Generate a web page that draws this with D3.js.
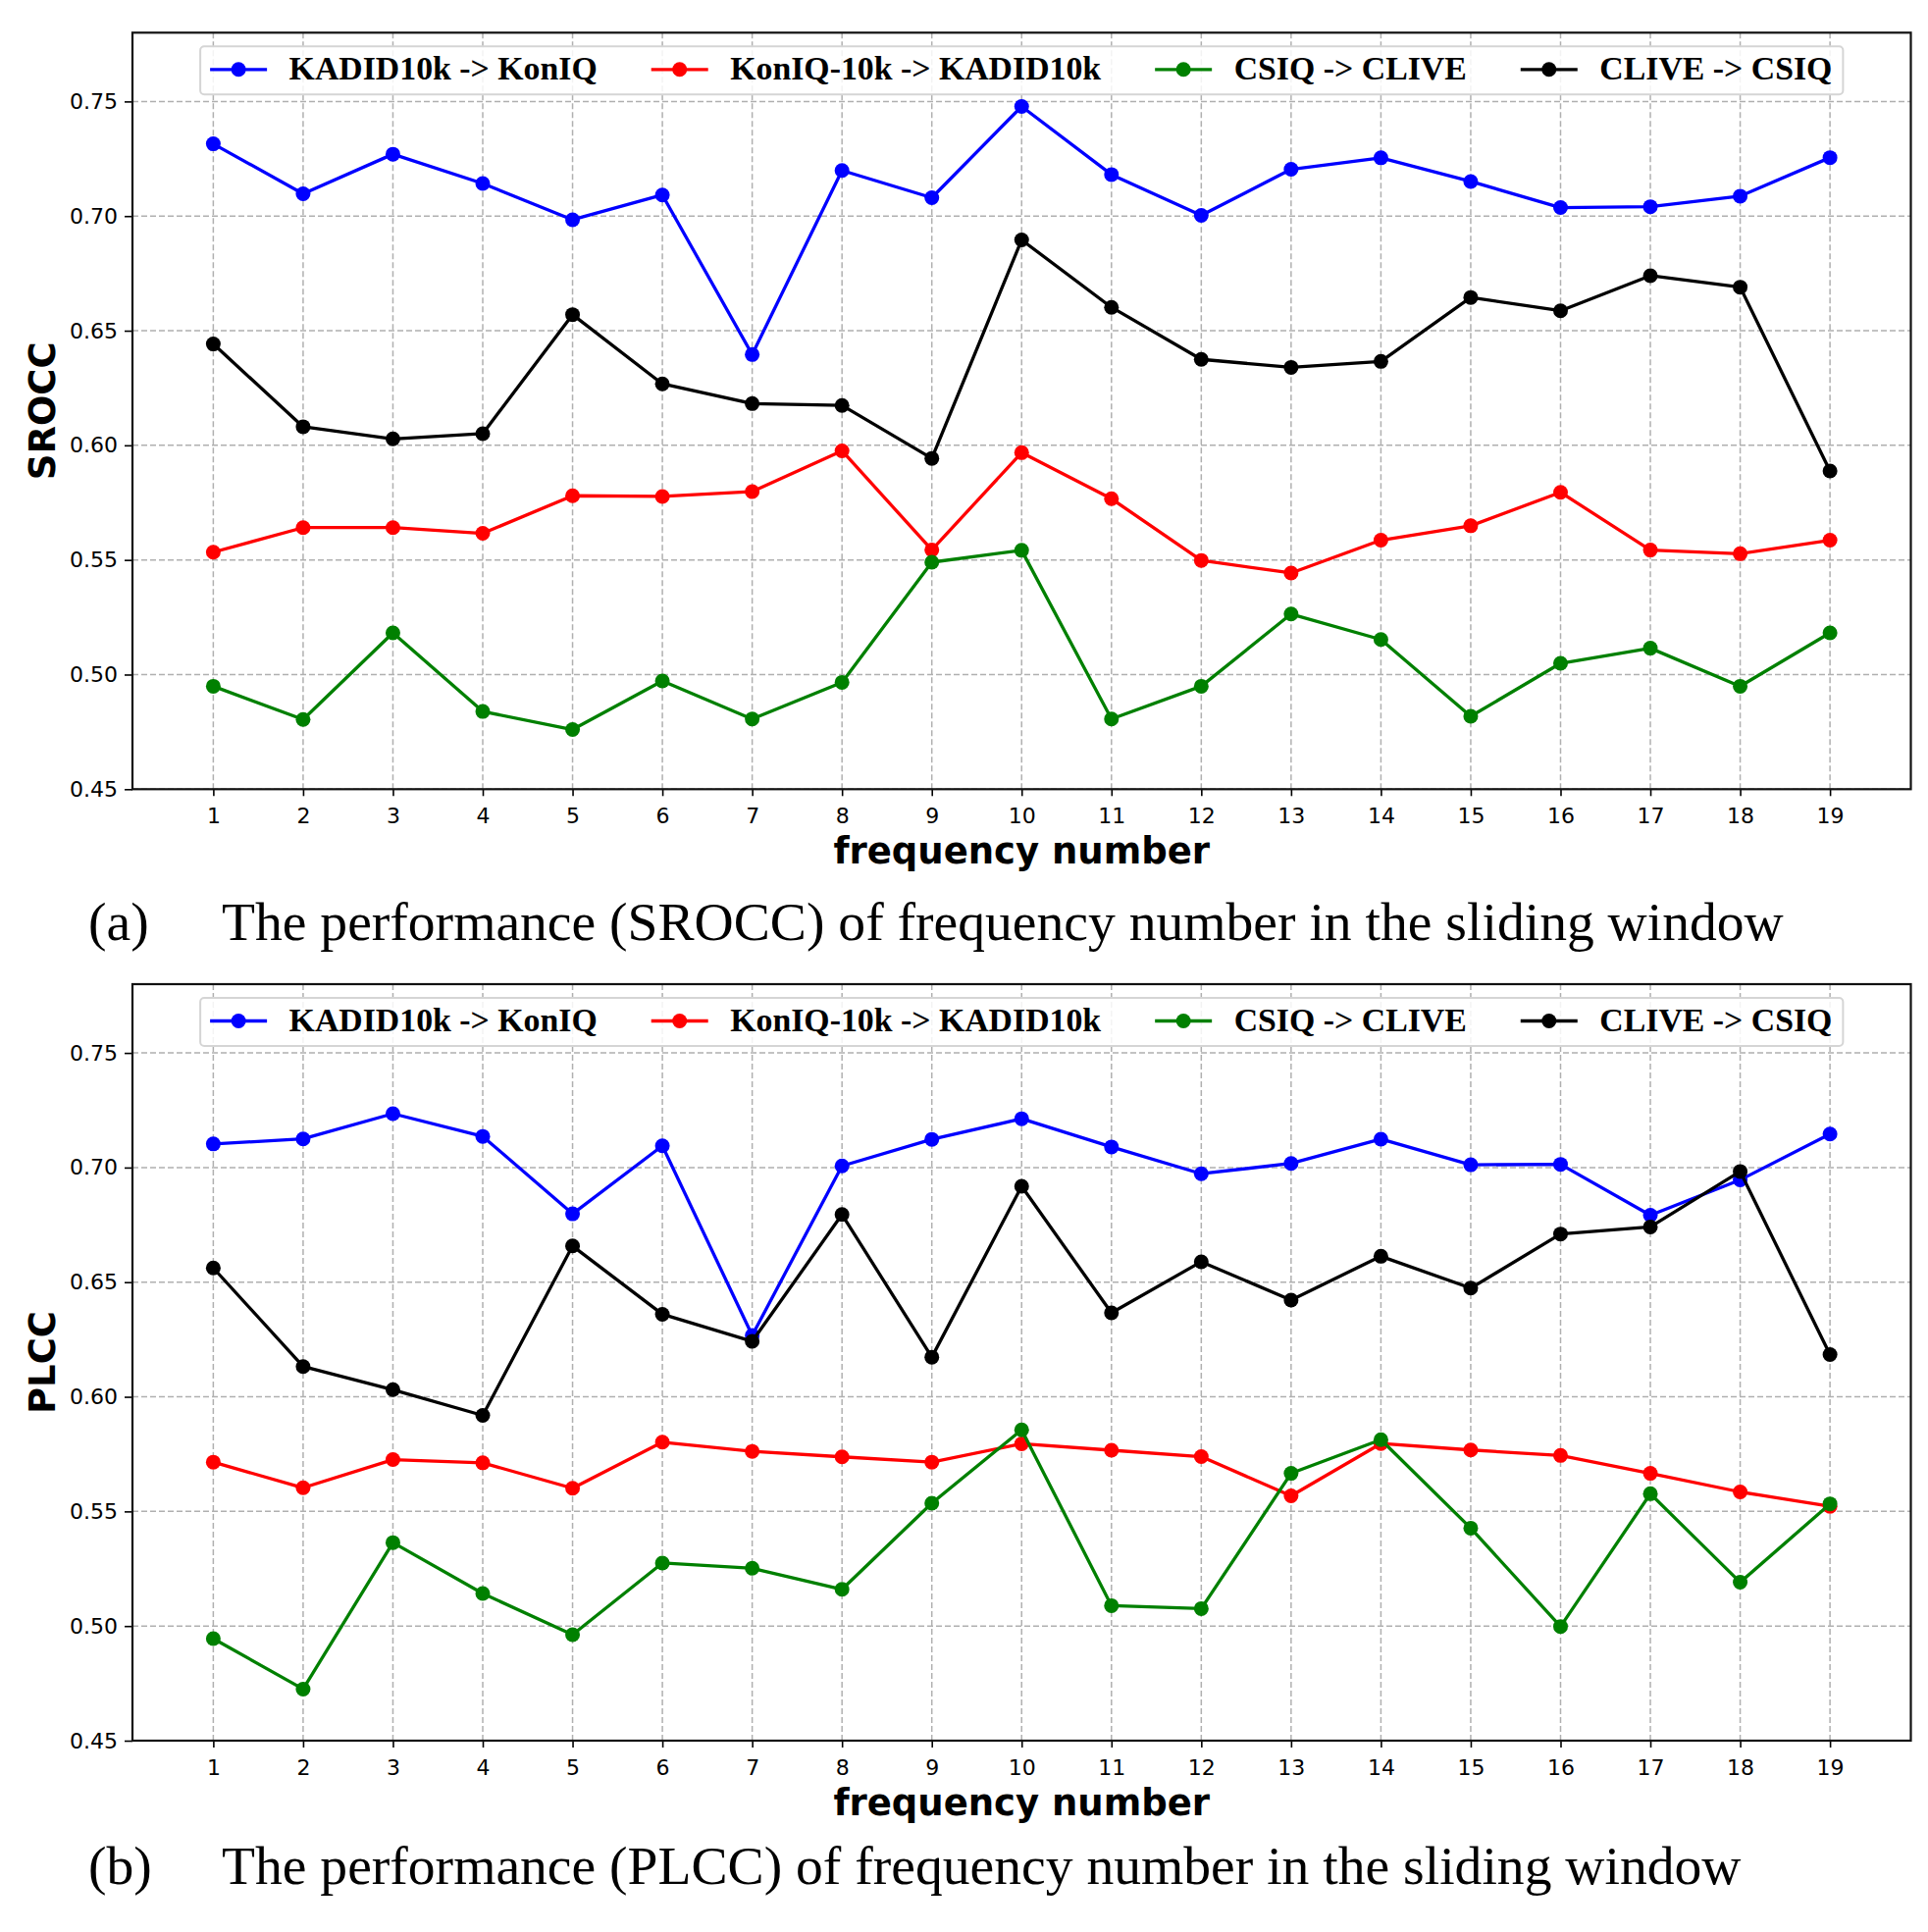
<!DOCTYPE html>
<html>
<head>
<meta charset="utf-8">
<script src="https://cdn.jsdelivr.net/npm/d3@7"></script>
<style>
  html, body { margin: 0; padding: 0; background: #fff; }
  svg { display: block; }
</style>
</head>
<body>
<script>
// frequency numbers on the x axis
var frequency = [1,2,3,4,5,6,7,8,9,10,11,12,13,14,15,16,17,18,19];
var yTicks = [0.45, 0.50, 0.55, 0.60, 0.65, 0.70, 0.75];

var seriesNames = ["KADID10k -> KonIQ", "KonIQ-10k -> KADID10k", "CSIQ -> CLIVE", "CLIVE -> CSIQ"];
var seriesColors = ["#0000ff", "#ff0000", "#008000", "#000000"];

// (a) SROCC
var sroccKadid = [0.7315,0.7097,0.7270,0.7142,0.6984,0.7092,0.6396,0.7199,0.7080,0.7478,0.7181,0.7003,0.7204,0.7254,0.7151,0.7037,0.7041,0.7087,0.7255];
var sroccKoniq = [0.5534,0.5641,0.5641,0.5616,0.5780,0.5777,0.5798,0.5976,0.5544,0.5968,0.5767,0.5498,0.5443,0.5586,0.5649,0.5795,0.5543,0.5527,0.5586];
var sroccCsiq  = [0.4949,0.4804,0.5182,0.4839,0.4760,0.4972,0.4806,0.4966,0.5490,0.5542,0.4806,0.4949,0.5264,0.5153,0.4818,0.5049,0.5115,0.4949,0.5182];
var sroccClive = [0.6442,0.6081,0.6028,0.6051,0.6570,0.6268,0.6182,0.6174,0.5943,0.6896,0.6602,0.6375,0.6340,0.6366,0.6645,0.6587,0.6740,0.6690,0.5888];

// (b) PLCC
var plccKadid = [0.7103,0.7125,0.7235,0.7136,0.6798,0.7095,0.6268,0.7007,0.7123,0.7213,0.7090,0.6973,0.7018,0.7124,0.7012,0.7014,0.6792,0.6946,0.7146];
var plccKoniq = [0.5715,0.5603,0.5726,0.5712,0.5601,0.5802,0.5762,0.5738,0.5715,0.5795,0.5767,0.5739,0.5568,0.5796,0.5768,0.5744,0.5666,0.5585,0.5522];
var plccCsiq  = [0.4945,0.4725,0.5364,0.5142,0.4962,0.5275,0.5252,0.5160,0.5536,0.5856,0.5089,0.5076,0.5666,0.5813,0.5427,0.4998,0.5577,0.5191,0.5533];
var plccClive = [0.6562,0.6132,0.6031,0.5919,0.6658,0.6360,0.6242,0.6795,0.6173,0.6918,0.6366,0.6589,0.6422,0.6613,0.6474,0.6710,0.6741,0.6983,0.6184];

var W = 1965, H = 1969;
var svg = d3.select("body").append("svg").attr("width", W).attr("height", H);
svg.append("rect").attr("width", W).attr("height", H).attr("fill", "#fff");

var left = 135, right = 1947.5;
var x = d3.scaleLinear().domain([0.1, 19.9]).range([left, right]);

function drawPanel(top, bottom, series, ylabel, tag, caption, capBase) {
  var y = d3.scaleLinear().domain([0.45, 0.78]).range([bottom, top]);
  var g = svg.append("g");

  // grid
  g.append("g").selectAll("line").data(frequency).join("line")
    .attr("x1", function(d){ return x(d); }).attr("x2", function(d){ return x(d); })
    .attr("y1", top).attr("y2", bottom)
    .attr("stroke", "#b0b0b0").attr("stroke-width", 1.5).attr("stroke-dasharray", "6,3");
  g.append("g").selectAll("line").data(yTicks).join("line")
    .attr("x1", left).attr("x2", right)
    .attr("y1", function(d){ return y(d); }).attr("y2", function(d){ return y(d); })
    .attr("stroke", "#b0b0b0").attr("stroke-width", 1.5).attr("stroke-dasharray", "6,3");

  // axes
  var xAxis = g.append("g").attr("transform", "translate(0," + bottom + ")")
    .call(d3.axisBottom(x).tickValues(frequency).tickSize(7).tickSizeOuter(0).tickFormat(d3.format("d")));
  xAxis.select(".domain").remove();
  xAxis.selectAll("line").attr("stroke", "#000").attr("stroke-width", 1.6);
  xAxis.selectAll("text").attr("y", 34.5).attr("dy", 0)
    .attr("font-family", "DejaVu Sans").attr("font-size", 22).attr("fill", "#000");

  var yAxis = g.append("g").attr("transform", "translate(" + left + ",0)")
    .call(d3.axisLeft(y).tickValues(yTicks).tickSize(8).tickPadding(7).tickSizeOuter(0).tickFormat(d3.format(".2f")));
  yAxis.select(".domain").remove();
  yAxis.selectAll("line").attr("stroke", "#000").attr("stroke-width", 1.6);
  yAxis.selectAll("text").attr("font-family", "DejaVu Sans").attr("font-size", 22).attr("fill", "#000");

  // series
  var line = d3.line().x(function(d, i){ return x(frequency[i]); }).y(function(d){ return y(d); });
  series.forEach(function(vals, k) {
    var s = g.append("g");
    s.append("path").datum(vals).attr("d", line)
      .attr("fill", "none").attr("stroke", seriesColors[k]).attr("stroke-width", 3.3)
      .attr("stroke-linejoin", "round");
    s.selectAll("circle").data(vals).join("circle")
      .attr("cx", function(d, i){ return x(frequency[i]); })
      .attr("cy", function(d){ return y(d); })
      .attr("r", 7.5).attr("fill", seriesColors[k]);
  });

  // frame
  g.append("rect").attr("x", left).attr("y", top).attr("width", right - left).attr("height", bottom - top)
    .attr("fill", "none").attr("stroke", "#111").attr("stroke-width", 2.2);

  // legend (upper center)
  var leg = g.append("g");
  var box = leg.append("rect");
  var pos = 0;
  seriesNames.forEach(function(name, k) {
    var it = leg.append("g").attr("transform", "translate(" + pos + ",0)");
    it.append("line").attr("x1", 0).attr("x2", 58).attr("y1", 0).attr("y2", 0)
      .attr("stroke", seriesColors[k]).attr("stroke-width", 3.3);
    it.append("circle").attr("cx", 29).attr("cy", 0).attr("r", 7.5).attr("fill", seriesColors[k]);
    var t = it.append("text").attr("x", 80.5).attr("y", 10.5).text(name)
      .attr("font-family", "Liberation Serif").attr("font-weight", "bold").attr("font-size", 33.8).attr("fill", "#000");
    var w = t.node().getComputedTextLength();
    pos += 80.5 + w + 55;
  });
  var legW = pos - 55 + 10 + 11;
  var legX = (left + right) / 2 - legW / 2;
  leg.attr("transform", "translate(" + (legX + 10) + "," + (top + 37.5) + ")");
  box.attr("x", -10).attr("y", -23.5).attr("width", legW).attr("height", 49).attr("rx", 4)
    .attr("fill", "#fff").attr("fill-opacity", 0.85).attr("stroke", "#d5d5d5").attr("stroke-width", 2);

  // axis labels
  g.append("text").attr("x", (left + right) / 2).attr("y", bottom + 76).attr("text-anchor", "middle")
    .attr("font-family", "DejaVu Sans").attr("font-weight", "bold").attr("font-size", 37).text("frequency number");
  g.append("text").attr("transform", "translate(56," + ((top + bottom) / 2) + ") rotate(-90)")
    .attr("text-anchor", "middle")
    .attr("font-family", "DejaVu Sans").attr("font-weight", "bold").attr("font-size", 37).text(ylabel);

  // caption
  g.append("text").attr("x", 90).attr("y", capBase)
    .attr("font-family", "Liberation Serif").attr("font-size", 55.6).text(tag);
  g.append("text").attr("x", 226).attr("y", capBase)
    .attr("font-family", "Liberation Serif").attr("font-size", 55.6).text(caption);
}

drawPanel(33.3, 804.3, [sroccKadid, sroccKoniq, sroccCsiq, sroccClive], "SROCC",
  "(a)", "The performance (SROCC) of frequency number in the sliding window", 958);
drawPanel(1003, 1774, [plccKadid, plccKoniq, plccCsiq, plccClive], "PLCC",
  "(b)", "The performance (PLCC) of frequency number in the sliding window", 1920);
</script>
</body>
</html>
